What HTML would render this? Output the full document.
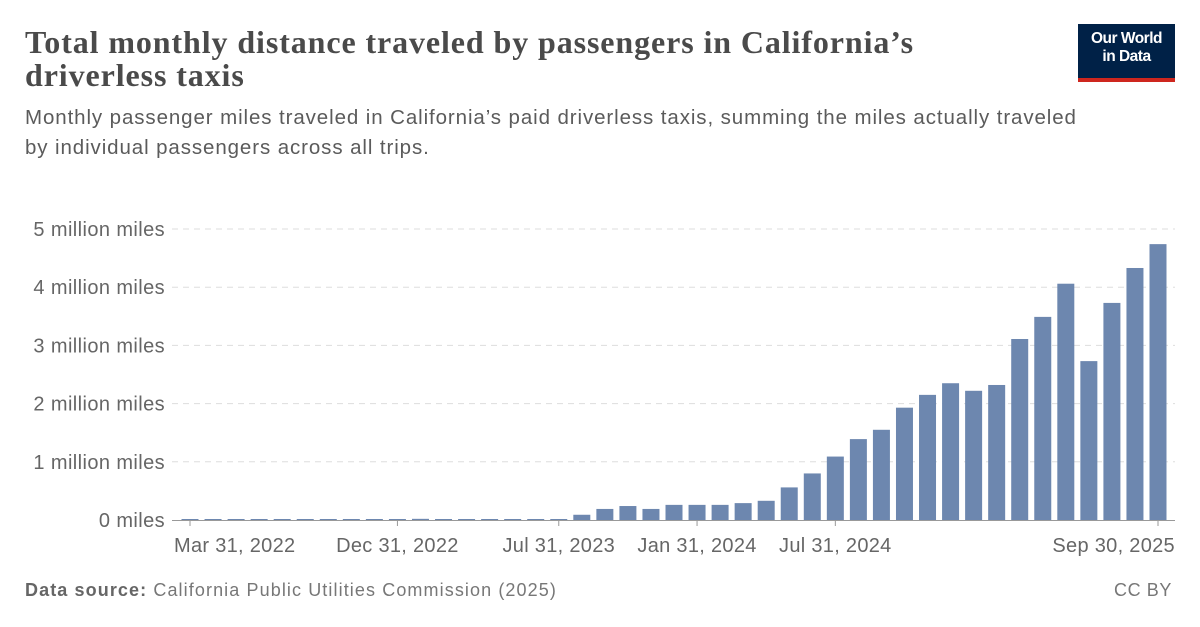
<!DOCTYPE html>
<html><head><meta charset="utf-8"><style>
body{margin:0;width:1200px;height:627px;background:#fff;font-family:"Liberation Sans",sans-serif;position:relative;overflow:hidden}
#title{position:absolute;left:25px;top:26px;font-family:"Liberation Serif",serif;font-weight:bold;font-size:32px;line-height:33px;letter-spacing:0.9px;color:#4a4a4a;margin:0;width:960px}
#sub{position:absolute;left:25px;top:103px;font-size:20.5px;line-height:30px;letter-spacing:0.9px;color:#5b5b5b;width:1075px}
#logo{position:absolute;left:1078px;top:24px;width:97px;height:54px;background:#002147;color:#fff;font-size:15.5px;font-weight:bold;text-align:center;line-height:18px;padding-top:6px;box-sizing:border-box;letter-spacing:-0.5px}
#logo:after{content:"";position:absolute;left:0;bottom:-4px;width:97px;height:4px;background:#ce261e}
#foot{position:absolute;left:25px;top:580px;font-size:18px;letter-spacing:1.1px;color:#777}
#cc{position:absolute;right:28px;top:580px;font-size:18px;letter-spacing:0.6px;color:#777}
</style></head><body>
<h1 id="title">Total monthly distance traveled by passengers in California’s driverless taxis</h1>
<div id="sub">Monthly passenger miles traveled in California’s paid driverless taxis, summing the miles actually traveled by individual passengers across all trips.</div>
<div id="logo">Our World<br>in Data</div>
<svg id="chart" width="1200" height="627" style="position:absolute;left:0;top:0" font-family="Liberation Sans, sans-serif"></svg>
<div id="foot"><b style="color:#666">Data source:</b> California Public Utilities Commission (2025)</div>
<div id="cc">CC BY</div>
<script>
const months = ["2022-03","2022-04","2022-05","2022-06","2022-07","2022-08","2022-09","2022-10","2022-11","2022-12","2023-01","2023-02","2023-03","2023-04","2023-05","2023-06","2023-07","2023-08","2023-09","2023-10","2023-11","2023-12","2024-01","2024-02","2024-03","2024-04","2024-05","2024-06","2024-07","2024-08","2024-09","2024-10","2024-11","2024-12","2025-01","2025-02","2025-03","2025-04","2025-05","2025-06","2025-07","2025-08","2025-09"];
const values = [0.01,0.01,0.01,0.01,0.01,0.01,0.01,0.01,0.01,0.01,0.02,0.01,0.01,0.01,0.01,0.01,0.01,0.09,0.19,0.24,0.19,0.26,0.26,0.26,0.29,0.33,0.56,0.80,1.09,1.39,1.55,1.93,2.15,2.35,2.22,2.32,3.11,3.49,4.06,2.73,3.73,4.33,4.74];
const yTicks = [0,1,2,3,4,5];
const yTickLabels = ["0 miles","1 million miles","2 million miles","3 million miles","4 million miles","5 million miles"];
const xTickIdx = [0,9,16,22,28,42];
const xTickLabels = ["Mar 31, 2022","Dec 31, 2022","Jul 31, 2023","Jan 31, 2024","Jul 31, 2024","Sep 30, 2025"];

const svg = document.getElementById('chart');
const NS = "http://www.w3.org/2000/svg";
const x0 = 190, step = (1158-190)/42, y0 = 520, pxPerM = (520-229)/5;
const xs = i => x0 + i*step;
const ys = v => y0 - v*pxPerM;
function mk(tag, attrs){const e=document.createElementNS(NS,tag);for(const k in attrs)e.setAttribute(k,attrs[k]);svg.appendChild(e);return e;}
yTicks.forEach((t,i)=>{
  if(t>0){const g=mk('line',{x1:172,x2:1175,y1:ys(t),y2:ys(t),stroke:'#ddd','stroke-dasharray':'6,5'});
  
  }
  const tx=mk('text',{x:165,y:ys(t)+7,'text-anchor':'end','font-size':20,'letter-spacing':0.4,fill:'#666'});
  tx.textContent=yTickLabels[i];
  
  
});
values.forEach((v,i)=>{
  const h=Math.max(v*pxPerM,1);
  const r=mk('rect',{x:xs(i)-8.5,y:y0-h,width:17,height:h,fill:'#6d87af'});
  
  
});
const ax=mk('line',{x1:172,x2:1175,y1:y0+0.5,y2:y0+0.5,stroke:'#999'});


xTickIdx.forEach((idx,i)=>{
  const tk=mk('line',{x1:xs(idx),x2:xs(idx),y1:y0,y2:y0+6,stroke:'#999'});
  
  
  const anchor = i===0?'start':(i===xTickIdx.length-1?'end':'middle');
  const xx = i===0?xs(idx)-16:(i===xTickIdx.length-1?xs(idx)+17:xs(idx));
  const tx=mk('text',{x:xx,y:552,'text-anchor':anchor,'font-size':20,'letter-spacing':0.3,fill:'#666'});
  tx.textContent=xTickLabels[i];
  
  
});
</script>
</body></html>
